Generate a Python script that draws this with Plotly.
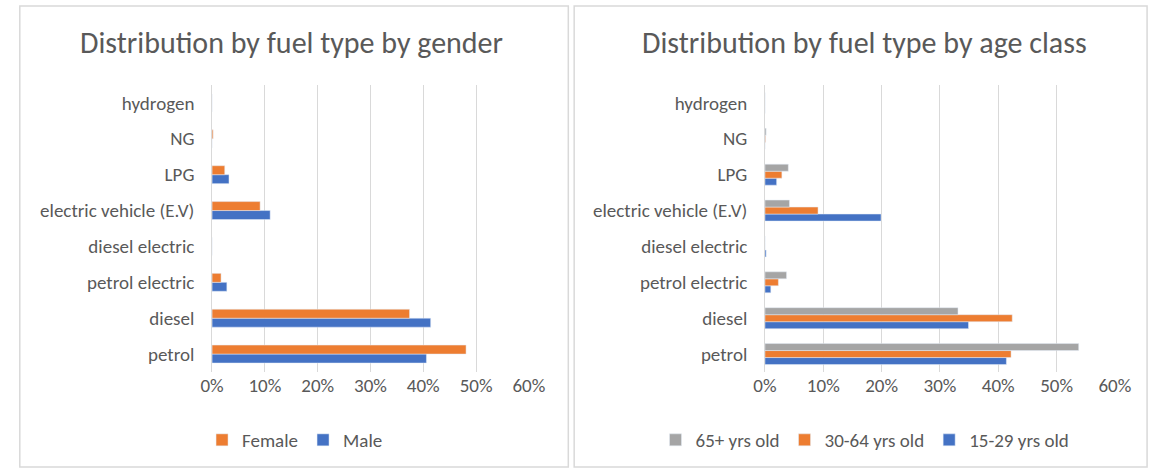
import plotly.graph_objects as go

# fuel types, bottom to top as Excel draws them
fuel_types = ["petrol", "diesel", "petrol electric", "diesel electric",
              "electric vehicle (E.V)", "LPG", "NG", "hydrogen"]

# gender shares (fraction)
male = [0.406, 0.414, 0.028, 0.0, 0.110, 0.032, 0.0, 0.0]
female = [0.481, 0.374, 0.017, 0.0, 0.091, 0.024, 0.002, 0.0]

# age class shares (fraction)
age_15_29 = [0.414, 0.349, 0.010, 0.002, 0.199, 0.020, 0.0, 0.0]
age_30_64 = [0.422, 0.424, 0.023, 0.0, 0.091, 0.029, 0.001, 0.0]
age_65 = [0.538, 0.331, 0.037, 0.0, 0.042, 0.040, 0.002, 0.0]

x_ticks = [0, 0.1, 0.2, 0.3, 0.4, 0.5, 0.6]

BLUE = "#4472C4"
ORANGE = "#ED7D31"
GREY = "#A5A5A5"
TXT = "#595959"
FONT = "Carlito, Lato, sans-serif"

W, H = 1166, 471

def px_x(v):
    return v / W

def px_y(v):
    return 1 - v / H

fig = go.Figure()

# left chart (2 bars per category)
fig.add_trace(go.Bar(y=fuel_types, x=male, name="Male", orientation="h", width=0.25, offset=-0.25,
                     marker_color=BLUE, xaxis="x", yaxis="y", legend="legend", legendrank=2))
fig.add_trace(go.Bar(y=fuel_types, x=female, name="Female", orientation="h", width=0.25, offset=0,
                     marker_color=ORANGE, xaxis="x", yaxis="y", legend="legend", legendrank=1))

# right chart (3 bars per category)
bw = 0.195
fig.add_trace(go.Bar(y=fuel_types, x=age_15_29, name="15-29 yrs old", orientation="h", width=bw, offset=-1.5 * bw,
                     marker_color=BLUE, xaxis="x2", yaxis="y2", legend="legend2", legendrank=3))
fig.add_trace(go.Bar(y=fuel_types, x=age_30_64, name="30-64 yrs old", orientation="h", width=bw, offset=-0.5 * bw,
                     marker_color=ORANGE, xaxis="x2", yaxis="y2", legend="legend2", legendrank=2))
fig.add_trace(go.Bar(y=fuel_types, x=age_65, name="65+ yrs old", orientation="h", width=bw, offset=0.5 * bw,
                     marker_color=GREY, xaxis="x2", yaxis="y2", legend="legend2", legendrank=1))

xax = dict(range=[0, 0.6], tickvals=x_ticks, tickformat=".0%", showgrid=True,
           gridcolor="#D9D9D9", gridwidth=1, zeroline=False, showline=False,
           tickfont=dict(size=19, color=TXT, family=FONT), ticks="", fixedrange=True)
yax = dict(categoryorder="array", categoryarray=fuel_types, showgrid=False,
           showline=True, linecolor="#D9D9D9", ticks="", ticksuffix="   ",
           tickfont=dict(size=19, color=TXT, family=FONT), fixedrange=True)

leg = dict(orientation="h", xanchor="center", yanchor="middle",
           font=dict(size=19, color=TXT, family=FONT), bgcolor="rgba(0,0,0,0)",
           itemwidth=30, traceorder="normal")

fig.update_layout(
    width=W, height=H,
    margin=dict(l=0, r=0, t=0, b=0),
    paper_bgcolor="white", plot_bgcolor="white",
    barmode="overlay",
    font=dict(family=FONT, color=TXT),
    xaxis=dict(xax, domain=[px_x(205), px_x(529.6)], anchor="y"),
    yaxis=dict(yax, domain=[px_y(372), px_y(85)], anchor="x"),
    xaxis2=dict(xax, domain=[px_x(771.5), px_x(1130)], anchor="y2"),
    yaxis2=dict(yax, domain=[px_y(372), px_y(85)], anchor="x2"),
    legend=dict(leg, x=px_x(290), y=px_y(440)),
    legend2=dict(leg, x=px_x(874), y=px_y(440)),
    showlegend=True,
)

# panel frames
for x0, x1 in [(8, 570), (576, 1163)]:
    fig.add_shape(type="rect", xref="paper", yref="paper",
                  x0=px_x(x0), x1=px_x(x1), y0=px_y(467), y1=px_y(6),
                  line=dict(color="#D9D9D9", width=1.5), fillcolor="rgba(0,0,0,0)", layer="below")

# titles
fig.add_annotation(text="Distribution by fuel type by gender", xref="paper", yref="paper",
                   x=px_x(286), y=px_y(43), xanchor="center", yanchor="middle", showarrow=False,
                   font=dict(size=30, color=TXT, family=FONT))
fig.add_annotation(text="Distribution by fuel type by age class", xref="paper", yref="paper",
                   x=px_x(873), y=px_y(43), xanchor="center", yanchor="middle", showarrow=False,
                   font=dict(size=30, color=TXT, family=FONT))

# remove the default page margin so the figure sits at the window's corner
fig.write_html("out.html", config={"displayModeBar": False},
               post_script="document.body.style.margin='0';")
